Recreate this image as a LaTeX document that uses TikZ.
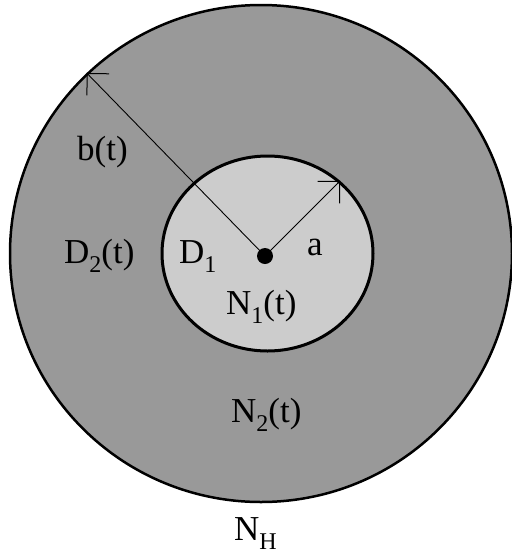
\documentclass[tikz,border=0pt]{standalone}
\usepackage{fontspec}
\setmainfont{Liberation Serif}
\usetikzlibrary{shapes.geometric,arrows.meta}
\definecolor{outergray}{HTML}{999999}
\definecolor{innergray}{HTML}{CCCCCC}
\newcommand{\lsub}[1]{\raisebox{-9pt}{\fontsize{24}{24}\selectfont #1}}
\begin{document}
\begin{tikzpicture}[x=1pt,y=-1pt,
  lbl/.style={font=\fontsize{35}{40}\selectfont, inner sep=0pt, anchor=base west},
  disc/.style={ellipse, draw=black, inner sep=0pt},
  arr/.style={line width=0.9pt, -{Straight Barb[length=15.5pt, width=31pt, line width=1pt]}}]
\useasboundingbox (0,0) rectangle (512,558);
\fill[white] (0,0) rectangle (512,558);
\node[disc, line width=2.5pt, fill=outergray, minimum width=502pt, minimum height=497pt] (outer) at (261,253.5) {};
\node[disc, line width=3pt, fill=innergray, minimum width=211pt, minimum height=195pt] (inner) at (267.5,253.5) {};
\node[circle, fill=black, minimum size=16pt, inner sep=0pt] (c) at (265,256) {};
\draw[arr] (c.center) -- (outer.134);
\draw[arr] (c.center) -- (inner.45);
\node[lbl] (bt) at (77,160) {b(t)};
\node[lbl] (d2) at (64,263) {D\lsub{2}(t)};
\node[lbl] (d1) at (179,263) {D\lsub{1}};
\node[lbl] (a) at (307,255) {a};
\node[lbl] (n1) at (226,314) {N\lsub{1}(t)};
\node[lbl] (n2) at (231,422) {N\lsub{2}(t)};
\node[lbl] (nh) at (234,540) {N\lsub{H}};
\end{tikzpicture}
\end{document}
